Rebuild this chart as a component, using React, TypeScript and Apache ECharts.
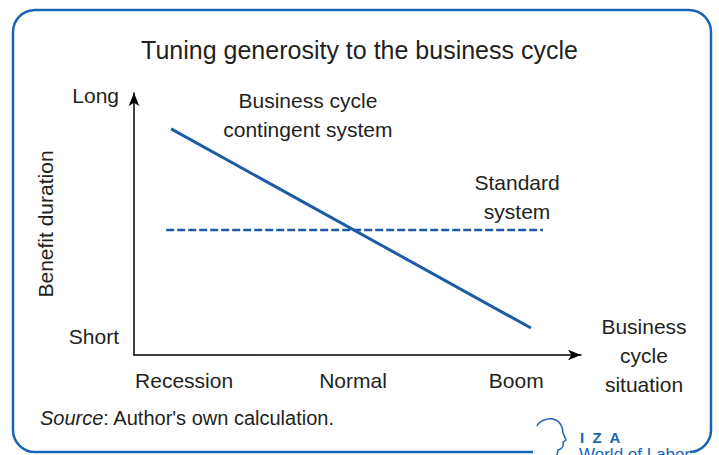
import React, { useEffect, useRef } from "react";
import * as echarts from "echarts";

const titleText = "Tuning generosity to the business cycle";
const sourceText = "Author's own calculation.";
const xCategories = ["Recession", "Normal", "Boom"];
const xCategoryPos = [11.2, 49.0, 85.5];
const yLabels = ["Short", "Long"];
const yLabelPos = [6.9, 98.9];
const xAxisName = "Business\ncycle\nsituation";
const yAxisName = "Benefit duration";
const contingentLine = [
  [8.3, 86.3],
  [88.8, 10.3],
];
const standardLine = [
  [7.2, 47.7],
  [91.5, 47.7],
];
const annotationTexts = ["Business cycle\ncontingent system", "Standard\nsystem"];
const annotationPos = [
  [38.9, 91.6],
  [85.7, 60.3],
];

const BLUE = "#1d5ba6";
const BORDER = "#1a64b4";
const TEXT = "#231f20";
const FONT = "'Liberation Sans', Arial, sans-serif";

const headPath =
  "M 537 426 C 539 421 547 418 553 419 C 560 421 563 427 563 433 L 566 440 L 563 442 C 564 446 562 449 558 450 L 557 455";

export default function App() {
  const ref = useRef<HTMLDivElement>(null);
  useEffect(() => {
    document.body.style.margin = "0";
    try {
      echarts.graphic.registerShape("izahead", echarts.graphic.extendPath(headPath, {}));
    } catch (e) {}
    const chart = echarts.init(ref.current!, null, { renderer: "svg" });
    const option = {
      animation: false,
      backgroundColor: "#ffffff",
      title: {
        text: titleText,
        left: "center",
        top: 32,
        textStyle: {
          fontFamily: "'Liberation Sans Narrow', 'Liberation Sans', sans-serif",
          fontSize: 25,
          fontWeight: "normal",
          color: TEXT,
        },
      },
      grid: { left: 134, right: 138, top: 93, bottom: 100 },
      xAxis: {
        type: "value",
        min: 0,
        max: 100,
        splitLine: { show: false },
        axisTick: { show: false },
        axisLine: {
          show: true,
          symbol: ["none", "arrow"],
          symbolSize: [8, 13],
          lineStyle: { color: "#000", width: 1.5 },
        },
        axisLabel: {
          customValues: xCategoryPos,
          formatter: (v: number) => xCategories[xCategoryPos.indexOf(v)] ?? "",
          margin: 15,
          color: TEXT,
          fontFamily: FONT,
          fontSize: 21,
        },
        name: xAxisName,
        nameLocation: "end",
        nameGap: 63,
        nameTextStyle: {
          align: "center",
          verticalAlign: "middle",
          color: TEXT,
          fontFamily: FONT,
          fontSize: 21,
          lineHeight: 29,
        },
      },
      yAxis: {
        type: "value",
        min: 0,
        max: 100,
        splitLine: { show: false },
        axisTick: { show: false },
        axisLine: {
          show: true,
          symbol: ["none", "arrow"],
          symbolSize: [8, 13],
          lineStyle: { color: "#000", width: 1.5 },
        },
        axisLabel: {
          customValues: yLabelPos,
          formatter: (v: number) => yLabels[yLabelPos.indexOf(v)] ?? "",
          margin: 15,
          color: TEXT,
          fontFamily: FONT,
          fontSize: 21,
        },
        name: yAxisName,
        nameLocation: "middle",
        nameRotate: 90,
        nameGap: 78,
        nameTextStyle: {
          color: TEXT,
          fontFamily: FONT,
          fontSize: 21,
        },
      },
      series: [
        {
          name: "Business cycle contingent system",
          type: "line",
          data: contingentLine,
          symbol: "none",
          lineStyle: { color: BLUE, width: 3 },
        },
        {
          name: "Standard system",
          type: "line",
          data: standardLine,
          symbol: "none",
          lineStyle: { color: BLUE, width: 2.5, type: [8, 3] },
        },
        {
          name: "annotations",
          type: "scatter",
          symbolSize: 1,
          itemStyle: { color: "rgba(0,0,0,0)", opacity: 1 },
          data: annotationPos.map((p, i) => ({ value: p, name: annotationTexts[i] })),
          label: {
            show: true,
            position: "inside",
            formatter: (p: any) => p.name,
            color: TEXT,
            opacity: 1,
            fontFamily: FONT,
            fontSize: 21,
            lineHeight: 29,
            align: "center",
          },
          silent: true,
        },
      ],
      graphic: [
        {
          type: "rect",
          shape: { x: 13, y: 10, width: 698, height: 442, r: 22 },
          style: { fill: "none", stroke: BORDER, lineWidth: 2.5 },
          silent: true,
        },
        {
          type: "rect",
          shape: { x: 533, y: 444, width: 157, height: 11 },
          style: { fill: "#ffffff" },
          silent: true,
        },
        {
          type: "izahead",
          x: 0,
          y: 0,
          style: { fill: "none", stroke: BORDER, lineWidth: 1.5 },
          silent: true,
        },
        {
          type: "text",
          x: 580,
          y: 437,
          style: {
            text: "I  Z  A",
            fill: BORDER,
            font: "bold 15px 'Liberation Sans', Arial, sans-serif",
            verticalAlign: "middle",
          },
          silent: true,
        },
        {
          type: "text",
          x: 579,
          y: 446,
          style: {
            text: "World of Labor",
            fill: BORDER,
            font: "17px 'Liberation Sans', Arial, sans-serif",
            verticalAlign: "top",
          },
          silent: true,
        },
        {
          type: "text",
          x: 40,
          y: 418,
          style: {
            text: "{i|Source}: " + sourceText,
            fill: TEXT,
            font: "20px 'Liberation Sans', Arial, sans-serif",
            verticalAlign: "middle",
            rich: {
              i: { fontStyle: "italic", fontSize: 20, fontFamily: FONT, fill: TEXT },
            },
          },
          silent: true,
        },
      ],
    };
    chart.setOption(option as any);
    return () => chart.dispose();
  }, []);
  return (
    <div
      ref={ref}
      style={{ position: "absolute", left: 0, top: 0, width: 719, height: 455 }}
    />
  );
}
